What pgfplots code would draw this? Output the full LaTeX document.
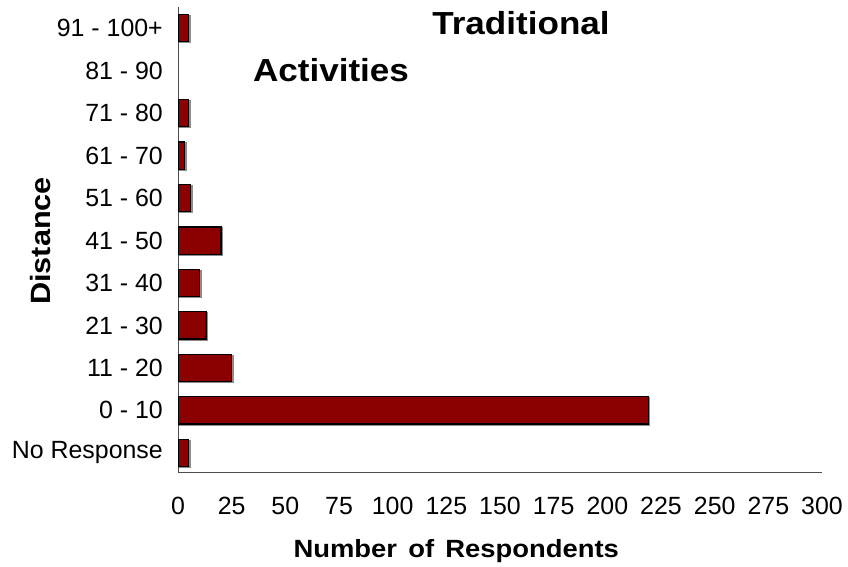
\documentclass[border=0pt]{standalone}
\usepackage{fontspec}
\setmainfont{Liberation Sans}
\newfontfamily\titlefont{Liberation Sans}[FakeStretch=1.1]
\usepackage{pgfplots}
\pgfplotsset{compat=1.18}
\definecolor{barred}{HTML}{8B0000}
\begin{document}
\begin{tikzpicture}[x=1bp,y=1bp]
\useasboundingbox (0,0) rectangle (848,567);
\begin{axis}[
  at={(178bp,95bp)}, anchor=south west,
  scale only axis, width=644bp, height=465bp,
  xbar, bar width=0.64, bar shift=0pt,
  xmin=0, xmax=300, ymin=-0.45, ymax=10.5,
  axis x line=bottom, axis y line=left,
  axis line style={-, draw=black!70, line width=0.9bp},
  major tick length=0pt,
  xtick={0,25,...,300},
  ytick={0,1,2,3,4,5,6,7,8,9,10},
  yticklabels={No Response, 0 - 10, 11 - 20, 21 - 30, 31 - 40, 41 - 50, 51 - 60, 61 - 70, 71 - 80, 81 - 90, 91 - 100+},
  /pgf/number format/assume math mode=true,
  ticklabel style={font=\fontsize{25}{29}\selectfont},
  xticklabel style={anchor=north, inner sep=0pt, yshift=-25bp},
  yticklabel style={anchor=east, inner sep=0pt, xshift=-15bp},
  xlabel={Number\hspace{0.45em}of\hspace{0.45em}Respondents},
  xlabel style={at={(axis description cs:0.432,0)}, anchor=base, yshift=-86bp, inner sep=0pt, font=\titlefont\bfseries\fontsize{25}{30}\selectfont},
  ylabel={Distance},
  ylabel style={at={(axis description cs:-0.2127,0.497)}, anchor=center, rotate=0, inner sep=0pt, font=\titlefont\bfseries\fontsize{28}{32}\selectfont},
]
\addplot[fill=black!45, draw=black!45, line width=1.2bp, xshift=1.5bp, yshift=-1bp] coordinates {
  (5,0) (219,1) (25,2) (13,3) (10,4) (20,5) (6,6) (3,7) (5,8) (5,10)
};
\addplot[fill=barred, draw=black, line width=1.2bp] coordinates {
  (5,0) (219,1) (25,2) (13,3) (10,4) (20,5) (6,6) (3,7) (5,8) (5,10)
};
\node[font=\titlefont\bfseries\fontsize{32}{36}\selectfont, anchor=center] at (axis description cs:0.5326,0.9656) {Traditional};
\node[font=\titlefont\bfseries\fontsize{32}{36}\selectfont, anchor=center] at (axis description cs:0.2376,0.865) {Activities};
\end{axis}
\end{tikzpicture}
\end{document}
